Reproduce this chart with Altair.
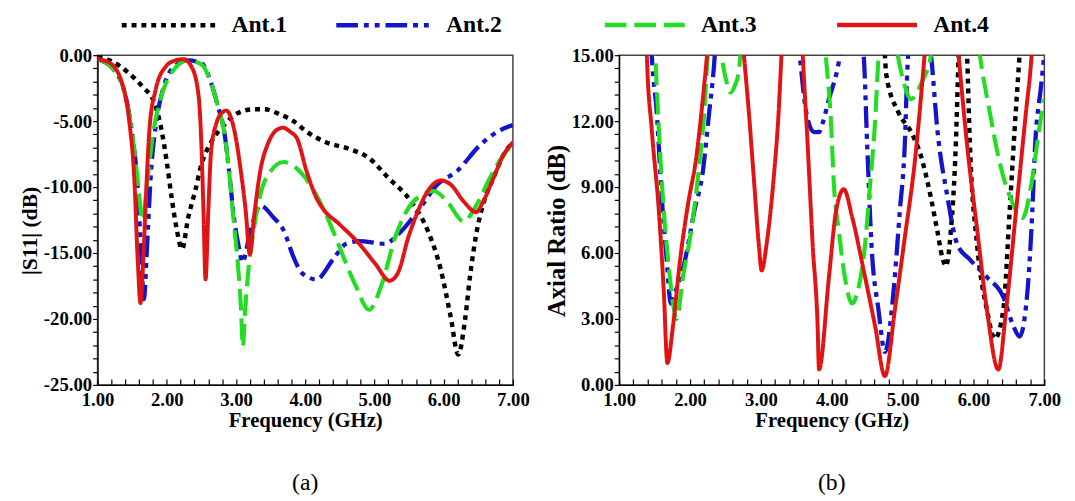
import altair as alt
import pandas as pd

SERIES = ["Ant.1", "Ant.2", "Ant.3", "Ant.4"]
COLORS = ["#000000", "#1414c8", "#22dd22", "#e01414"]
DASHES = [[5, 5], [22, 6, 5, 6, 5, 6], [22, 8], [1, 0]]
WIDTHS = [4.5, 4, 4, 4]

# ---- Panel (a): |S11| (dB) ----
a1_f = [1.0, 1.18, 1.46, 1.65, 1.82, 1.91, 2.0, 2.07, 2.14, 2.22, 2.31, 2.41, 2.5, 2.64, 2.83, 3.02,
        3.26, 3.40, 3.64, 3.83, 4.02, 4.30, 4.63, 4.92, 5.20, 5.53, 5.77, 5.96, 6.10, 6.21, 6.31,
        6.38, 6.48, 6.57, 6.72, 6.86, 7.0]
a1_s = [-0.1, -0.4, -1.4, -2.4, -3.6, -5.3, -8.1, -10.8, -13.1, -14.7, -12.3, -10.3, -8.3, -6.6,
        -5.3, -4.4, -4.1, -4.1, -4.5, -5.0, -5.8, -6.6, -7.1, -7.8, -9.3, -11.1, -13.3, -16.3,
        -19.8, -22.7, -20.0, -16.8, -13.3, -11.3, -9.3, -7.6, -6.6]

a2_f = [1.0, 1.2, 1.4, 1.5, 1.58, 1.63, 1.67, 1.71, 1.77, 1.85, 1.95, 2.1, 2.31, 2.50, 2.64, 2.74,
        2.83, 2.90, 2.97, 3.05, 3.09, 3.21, 3.35, 3.54, 3.69, 3.83, 3.95, 4.16, 4.40, 4.59, 4.78,
        5.15, 5.34, 5.63, 5.91, 6.19, 6.53, 6.81, 7.0]
a2_s = [-0.3, -0.9, -3.0, -6.0, -10.0, -15.0, -18.5, -15.0, -9.0, -5.0, -2.5, -0.9, -0.4, -0.6,
        -2.1, -3.9, -5.8, -8.8, -12.3, -14.8, -15.7, -13.3, -11.4, -12.3, -13.3, -15.3, -16.5,
        -17.0, -15.5, -14.3, -14.1, -14.3, -13.6, -11.8, -9.8, -8.8, -6.8, -5.7, -5.3]

a3_f = [1.0, 1.2, 1.4, 1.5, 1.58, 1.65, 1.72, 1.8, 1.9, 2.05, 2.3, 2.5, 2.64, 2.74, 2.83, 2.90,
        2.97, 3.03, 3.07, 3.10, 3.13, 3.17, 3.26, 3.35, 3.50, 3.69, 3.92, 4.16, 4.40, 4.59, 4.73,
        4.92, 5.11, 5.30, 5.49, 5.72, 5.86, 6.05, 6.29, 6.48, 6.67, 6.86, 7.0]
a3_s = [-0.3, -0.9, -3.0, -6.0, -9.5, -12.5, -9.5, -6.0, -3.5, -1.5, -0.4, -0.7, -2.1, -3.9, -5.8,
        -8.8, -12.8, -16.0, -19.0, -22.1, -19.5, -16.8, -13.1, -10.6, -8.8, -8.1, -8.8, -10.6,
        -13.3, -15.8, -17.5, -19.3, -17.3, -13.8, -11.6, -10.5, -10.3, -11.1, -12.6, -11.3, -9.3,
        -7.6, -6.8]

a4_f = [1.0, 1.18, 1.37, 1.46, 1.53, 1.58, 1.62, 1.66, 1.70, 1.75, 1.84, 1.98, 2.12, 2.24, 2.36,
        2.46, 2.50, 2.53, 2.56, 2.60, 2.64, 2.72, 2.79, 2.86, 2.98, 3.07, 3.14, 3.20, 3.26, 3.35,
        3.47, 3.61, 3.68, 3.78, 3.88, 4.02, 4.16, 4.25, 4.49, 4.78, 5.01, 5.22, 5.34, 5.49, 5.63,
        5.77, 5.96, 6.10, 6.29, 6.47, 6.57, 6.72, 6.86, 7.0]
a4_s = [-0.3, -0.6, -2.4, -5.1, -9.3, -15.5, -18.8, -15.5, -10.6, -5.6, -2.6, -0.9, -0.4, -0.3,
        -0.9, -3.1, -6.8, -11.8, -17.0, -11.8, -7.3, -5.1, -4.4, -4.2, -5.8, -8.8, -11.8, -15.1,
        -12.3, -8.8, -6.6, -5.6, -5.5, -5.8, -6.3, -8.8, -10.8, -11.6, -12.8, -14.3, -15.8, -17.1,
        -16.5, -13.8, -11.8, -10.3, -9.5, -9.8, -11.1, -11.9, -11.1, -9.3, -7.6, -6.6]

# ---- Panel (b): Axial Ratio (dB) ----
b1_f = [4.70, 4.77, 4.94, 5.12, 5.26, 5.40, 5.49, 5.56, 5.61, 5.68, 5.75, 5.79, 5.85, 5.91, 5.95,
        6.05, 6.19, 6.30, 6.42, 6.51, 6.58, 6.65, 6.75]
b1_r = [20, 14.1, 12.4, 11.5, 10.4, 8.5, 7.0, 5.8, 5.4, 7.0, 10.9, 15, 20, 15, 10.9, 6.4, 3.4,
        2.1, 3.4, 7.9, 11.6, 15, 20]

b2_f = [1.40, 1.46, 1.53, 1.60, 1.67, 1.73, 1.79, 1.93, 2.06, 2.18, 2.27, 2.34, 2.36, 2.9, 3.53,
        3.55, 3.64, 3.75, 3.82, 3.87, 3.96, 4.10, 4.14, 4.3, 4.43, 4.45, 4.50, 4.56, 4.66, 4.75,
        4.87, 4.96, 5.03, 5.07, 5.09, 5.25, 5.38, 5.40, 5.49, 5.63, 5.77, 5.95, 6.19, 6.42, 6.56,
        6.65, 6.76, 6.83, 6.87, 6.95, 7.0]
b2_r = [20, 15, 12.4, 8.6, 5.7, 3.7, 4.2, 5.7, 7.9, 9.7, 12.4, 14.6, 15.5, 25, 15.5, 14.9, 12.4,
        11.5, 11.5, 11.9, 13.0, 14.7, 15.5, 25, 15.5, 15, 10.9, 6.4, 3.4, 1.5, 4.2, 7.9, 10.9,
        14.6, 15.5, 25, 15.5, 15, 11.6, 8.6, 6.4, 5.7, 4.9, 4.0, 2.7, 2.2, 4.2, 7.9, 10.9, 13.5, 15]

b3_f = [1.45, 1.51, 1.56, 1.63, 1.69, 1.76, 1.81, 1.90, 2.02, 2.11, 2.20, 2.25, 2.33, 2.44, 2.50,
        2.57, 2.63, 2.69, 2.72, 2.9, 3.85, 3.92, 3.99, 4.03, 4.10, 4.17, 4.29, 4.36, 4.47, 4.54,
        4.61, 4.66, 4.70, 4.82, 4.93, 5.03, 5.12, 5.26, 5.40, 5.45, 5.75, 6.05, 6.09, 6.23, 6.37,
        6.51, 6.69, 6.83, 6.92, 7.0]
b3_r = [20, 15, 11.6, 7.9, 5.7, 3.7, 3.0, 4.9, 7.1, 9.4, 12.4, 15, 17, 15, 14.0, 13.3, 13.6, 14.3,
        15.5, 25, 17, 14.8, 11.9, 9.1, 7.0, 5.2, 3.7, 4.2, 6.4, 9.1, 11.9, 14.9, 16, 17, 15, 13.6,
        13.0, 13.7, 15, 16, 25, 16, 15, 12.4, 10.1, 8.6, 7.6, 9.4, 11.5, 13.0]

b4_f = [1.35, 1.39, 1.46, 1.56, 1.63, 1.68, 1.76, 1.86, 1.97, 2.09, 2.18, 2.24, 2.5, 2.76, 2.83,
        2.90, 2.97, 3.01, 3.08, 3.18, 3.25, 3.29, 3.45, 3.59, 3.66, 3.73, 3.80, 3.82, 3.96, 4.06,
        4.17, 4.29, 4.47, 4.61, 4.75, 4.89, 5.03, 5.17, 5.31, 5.55, 5.79, 5.91, 6.05, 6.19, 6.35,
        6.46, 6.60, 6.74, 6.82, 6.9]
b4_r = [20, 15, 11.6, 7.9, 4.2, 1.0, 2.7, 5.7, 8.2, 10.4, 13.0, 15, 25, 15, 12.4, 9.4, 6.4, 5.2,
        6.4, 9.4, 12.4, 15, 25, 15, 10.9, 6.4, 2.7, 0.7, 4.9, 7.9, 8.9, 7.6, 4.9, 2.7, 0.4, 3.4,
        6.7, 10.1, 15, 25, 15, 10.9, 7.1, 3.4, 0.7, 3.4, 7.9, 12.4, 15, 20]


def frame(pairs):
    rows = []
    for name, fs, vs in pairs:
        for i, (f, v) in enumerate(zip(fs, vs)):
            rows.append({"series": name, "freq": f, "val": v, "order": i})
    return pd.DataFrame(rows)


df_a = frame([("Ant.1", a1_f, a1_s), ("Ant.2", a2_f, a2_s), ("Ant.3", a3_f, a3_s), ("Ant.4", a4_f, a4_s)])
df_b = frame([("Ant.1", b1_f, b1_r), ("Ant.2", b2_f, b2_r), ("Ant.3", b3_f, b3_r), ("Ant.4", b4_f, b4_r)])

FONT = "Liberation Serif"
x_ticks = [round(1 + 0.2 * i, 2) for i in range(31)]
FMT = "replace(format(datum.value, '.2f'), '\u2212', '-')"


def panel(df, ytitle, ytsize, ydom, yticks, ymajor, width, legend_vals, lx, ly, colpad, symsize, caption):
    leg = alt.Legend(values=legend_vals, orient="none", legendX=lx, legendY=ly,
                     direction="horizontal", title=None, symbolType="stroke",
                     symbolSize=symsize, symbolStrokeWidth=4.5, labelFont=FONT,
                     labelFontSize=24, labelFontWeight="bold", labelColor="#000",
                     columnPadding=colpad, labelOffset=14, padding=0)
    return alt.Chart(df).mark_line(clip=True, interpolate="monotone").encode(
        x=alt.X("freq:Q", scale=alt.Scale(domain=[1, 7], nice=False),
                axis=alt.Axis(values=x_ticks, title="Frequency (GHz)",
                              labelExpr="abs(datum.value - round(datum.value)) < 0.01 ? " + FMT + " : ''",
                              labelFlush=False, labelOverlap=False, grid=False,
                              tickSize={"expr": "-6"},
                              titlePadding=0, labelPadding=12, titleFontSize=21)),
        y=alt.Y("val:Q", scale=alt.Scale(domain=ydom, nice=False, zero=False),
                axis=alt.Axis(values=yticks, title=ytitle,
                              labelExpr="abs(datum.value/%g - round(datum.value/%g)) < 0.01 ? %s : ''" % (ymajor, ymajor, FMT),
                              labelOverlap=False, grid=False, tickSize=5, titlePadding=2,
                              labelPadding=1, titleFontSize=ytsize, titleY=178)),
        color=alt.Color("series:N", scale=alt.Scale(domain=SERIES, range=COLORS), legend=leg),
        strokeDash=alt.StrokeDash("series:N", scale=alt.Scale(domain=SERIES, range=DASHES), legend=leg),
        strokeWidth=alt.StrokeWidth("series:N", scale=alt.Scale(domain=SERIES, range=WIDTHS), legend=None),
        order="order:Q",
    ).properties(
        width=width, height=335,
        title=alt.TitleParams(caption, orient="bottom", fontSize=24, font=FONT,
                              fontWeight="normal", offset=42, anchor="middle", color="#000"),
    )


ya = [-25 + i for i in range(26)]
yb = [round(0.6 * i, 2) for i in range(26)]

SIZE_A = 9000
SIZE_B = 6600
pa = panel(df_a, "|S11| (dB)", 22, [-25, 0], ya, 5, 422, ["Ant.1", "Ant.2"], 22,
           -33 - SIZE_A ** 0.5 / 2, 40, SIZE_A, "(a)")
pb = panel(df_b, "Axial Ratio (dB)", 25, [0, 15], yb, 3, 432, ["Ant.3", "Ant.4"], -17,
           -33 - SIZE_B ** 0.5 / 2, 72, SIZE_B, "(b)")

chart = alt.hconcat(pa, pb, spacing=13).resolve_legend(
    color="independent", strokeDash="independent"
).resolve_scale(
    color="independent", strokeDash="independent", x="independent", y="independent"
).properties(
    padding={"left": 10, "top": -38, "right": 5, "bottom": 0},
    background="white",
).configure_view(
    stroke="#444", strokeWidth=1.5
).configure_axis(
    labelFont=FONT, labelFontSize=19, labelFontWeight="bold", labelColor="#000",
    titleFont=FONT, titleFontSize=19, titleFontWeight="bold", titleColor="#000",
    domainColor="#000", tickColor="#000", domainWidth=1.2, tickWidth=1.2
)

chart.save("out.html", embed_options={"renderer": "svg", "actions": False})
